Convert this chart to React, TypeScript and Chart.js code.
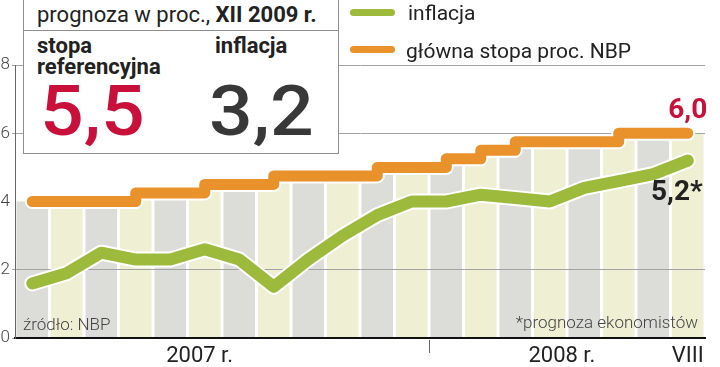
import React, { useEffect, useRef } from 'react';
import { Chart, registerables } from 'chart.js';

Chart.register(...registerables);

// ---- data ----
const months = ['I', 'II', 'III', 'IV', 'V', 'VI', 'VII', 'VIII', 'IX', 'X', 'XI', 'XII', 'I', 'II', 'III', 'IV', 'V', 'VI', 'VII', 'VIII'];
const inflation = [1.6, 1.9, 2.5, 2.3, 2.3, 2.6, 2.3, 1.5, 2.3, 3.0, 3.6, 4.0, 4.0, 4.2, 4.1, 4.0, 4.4, 4.6, 4.8, 5.2];
const refRate = [4.0, 4.0, 4.0, 4.25, 4.25, 4.5, 4.5, 4.75, 4.75, 4.75, 5.0, 5.0, 5.25, 5.5, 5.75, 5.75, 5.75, 6.0, 6.0, 6.0];
const yTicks = [0, 2, 4, 6, 8];
const hiddenGridValues = [4];
const yearLabels = ['2007 r.', '2008 r.', 'VIII'];
const yearLabelAt = [4.85, 15.35, 19];
const yearBoundary = 11.5;
const refEndLabel = '6,0';
const inflEndLabel = '5,2*';

// ---- styles ----
const ORANGE = '#E9922B';
const GREEN = '#9DBA3C';
const RED = '#C8103A';
const STRIPE_GRAY = '#DCDDD8';
const STRIPE_YELLOW = '#EFF0D3';

const stripesPlugin = {
  id: 'stripes',
  beforeDraw(chart: any) {
    const { ctx, chartArea, scales } = chart;
    const x = scales.x;
    const y = scales.y;
    const half = (x.getPixelForValue(1) - x.getPixelForValue(0)) / 2;
    ctx.save();
    ctx.beginPath();
    ctx.moveTo(chartArea.left, y.getPixelForValue(refRate[0]));
    refRate.forEach((v, i) => {
      const px = x.getPixelForValue(i);
      if (i > 0) ctx.lineTo(px, y.getPixelForValue(refRate[i - 1]));
      ctx.lineTo(px, y.getPixelForValue(v));
    });
    ctx.lineTo(chartArea.right, y.getPixelForValue(refRate[refRate.length - 1]));
    ctx.lineTo(chartArea.right, chartArea.bottom);
    ctx.lineTo(chartArea.left, chartArea.bottom);
    ctx.closePath();
    ctx.clip();
    months.forEach((_, i) => {
      const c = x.getPixelForValue(i);
      ctx.fillStyle = i % 2 === 0 ? STRIPE_GRAY : STRIPE_YELLOW;
      ctx.fillRect(c - half + 1.5, chartArea.top, 2 * half - 3, chartArea.bottom - chartArea.top);
    });
    ctx.restore();
  },
};

const labelsPlugin = {
  id: 'labels',
  afterDraw(chart: any) {
    const { ctx, chartArea, scales } = chart;
    const x = scales.x;
    const y = scales.y;
    ctx.save();
    ctx.font = '400 22px Roboto';
    ctx.fillStyle = '#222';
    ctx.textAlign = 'center';
    ctx.textBaseline = 'alphabetic';
    yearLabels.forEach((t, i) => {
      ctx.fillText(t, x.getPixelForValue(yearLabelAt[i]), chartArea.bottom + 24);
    });
    const sx = Math.round(x.getPixelForValue(yearBoundary)) + 0.5;
    ctx.strokeStyle = '#666';
    ctx.lineWidth = 1;
    ctx.beginPath();
    ctx.moveTo(sx, chartArea.bottom + 2);
    ctx.lineTo(sx, chartArea.bottom + 15);
    ctx.stroke();

    const li = refRate.length - 1;
    ctx.font = '700 28px Roboto';
    ctx.fillStyle = RED;
    ctx.textAlign = 'center';
    ctx.fillText(refEndLabel, x.getPixelForValue(li), y.getPixelForValue(refRate[li]) - 15);
    ctx.fillStyle = '#222';
    ctx.textAlign = 'right';
    ctx.fillText(inflEndLabel, x.getPixelForValue(li) + 15, y.getPixelForValue(inflation[li]) + 39);
    ctx.restore();
  },
};

const abs = (s: React.CSSProperties): React.CSSProperties => ({ position: 'absolute', whiteSpace: 'nowrap', lineHeight: 1, margin: 0, ...s });

export default function App() {
  const ref = useRef<HTMLCanvasElement | null>(null);

  useEffect(() => {
    if (!ref.current) return;
    const lineCommon = {
      pointRadius: 0,
      pointHoverRadius: 0,
      borderCapStyle: 'round' as const,
      borderJoinStyle: 'round' as const,
      tension: 0,
      fill: false,
    };
    const chart = new Chart(ref.current, {
      type: 'line',
      data: {
        labels: months,
        datasets: [
          { ...lineCommon, data: inflation, borderColor: GREEN, borderWidth: 12, order: 0 },
          { ...lineCommon, data: inflation, borderColor: '#ffffff', borderWidth: 16, order: 1 },
          { ...lineCommon, data: refRate, borderColor: ORANGE, borderWidth: 11, stepped: true, order: 2 },
          { ...lineCommon, data: refRate, borderColor: '#ffffff', borderWidth: 15, stepped: true, order: 3 },
        ],
      },
      options: {
        responsive: false,
        animation: false,
        events: [],
        layout: { padding: { top: 65, right: 15, left: 0, bottom: 0 } },
        plugins: { legend: { display: false }, tooltip: { enabled: false } },
        scales: {
          x: {
            type: 'category',
            offset: true,
            grid: { display: false },
            border: { display: true, color: '#111', width: 2 },
            ticks: { display: false },
            afterFit: (s: any) => { s.height = 29; },
          },
          y: {
            min: 0,
            max: 8,
            afterBuildTicks: (s: any) => { s.ticks = yTicks.map((v) => ({ value: v })); },
            grid: {
              color: (c: any) => (c.tick && hiddenGridValues.includes(c.tick.value) ? 'rgba(0,0,0,0)' : '#a3a3a3'),
              lineWidth: 1,
              drawTicks: true,
              tickLength: 3,
            },
            border: { display: true, color: '#666', width: 1 },
            ticks: { padding: 2, color: '#444', font: { family: 'Roboto', size: 17, weight: 300 } },
            afterFit: (s: any) => { s.width = 15; },
          },
        },
      },
      plugins: [stripesPlugin, labelsPlugin],
    });
    return () => chart.destroy();
  }, []);

  return (
    <div style={{ position: 'fixed', left: 0, top: 0, width: 720, height: 367, background: '#fff', overflow: 'hidden', fontFamily: 'Roboto, sans-serif' }}>
      <canvas ref={ref} width={720} height={367} style={{ position: 'absolute', left: 0, top: 0, width: 720, height: 367 }} />

      {/* forecast box */}
      <div style={abs({ left: 23, top: -1, width: 316, height: 155, boxSizing: 'border-box', border: '1px solid #8e8e8e', background: '#fff' })} />
      <div style={abs({ left: 23, top: 30, width: 316, height: 1, background: '#8e8e8e' })} />
      <div style={abs({ left: 37, top: 3.5, fontSize: 22, color: '#222' })}>
        prognoza w proc., <b style={{ fontWeight: 700 }}>XII 2009 r.</b>
      </div>
      <div style={abs({ left: 37, top: 34.5, fontSize: 22, fontWeight: 700, color: '#222' })}>stopa</div>
      <div style={abs({ left: 37, top: 55.5, fontSize: 22, fontWeight: 700, color: '#222' })}>referencyjna</div>
      <div style={abs({ left: 215, top: 34.5, fontSize: 22, fontWeight: 700, color: '#222' })}>inflacja</div>
      <div style={abs({ left: 40, top: 76, fontSize: 70, fontWeight: 500, color: RED, transform: 'scaleX(1.1)', transformOrigin: 'left top' })}>5,5</div>
      <div style={abs({ left: 209, top: 76, fontSize: 70, fontWeight: 500, color: '#383838', transform: 'scaleX(1.1)', transformOrigin: 'left top' })}>3,2</div>

      {/* legend */}
      <div style={abs({ left: 350, top: 9, width: 45, height: 7, borderRadius: 4, background: GREEN })} />
      <div style={abs({ left: 408, top: 2.5, fontSize: 21, color: '#222' })}>inflacja</div>
      <div style={abs({ left: 350, top: 46, width: 45, height: 7, borderRadius: 4, background: ORANGE })} />
      <div style={abs({ left: 406, top: 40.5, fontSize: 21, color: '#222' })}>główna stopa proc. NBP</div>

      {/* notes */}
      <div style={abs({ left: 23, top: 315.5, fontSize: 17, fontWeight: 300, color: '#444' })}>źródło: NBP</div>
      <div style={abs({ right: 22, top: 314, fontSize: 17, fontWeight: 300, color: '#444' })}>*prognoza ekonomistów</div>
    </div>
  );
}
